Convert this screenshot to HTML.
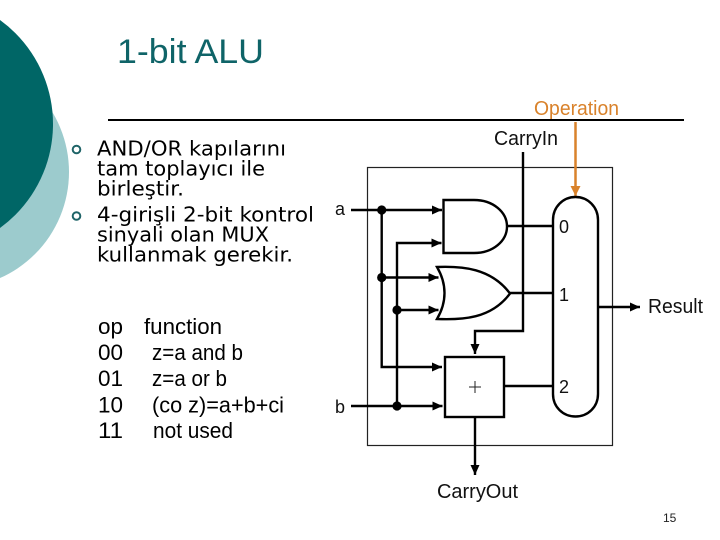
<!DOCTYPE html>
<html>
<head>
<meta charset="utf-8">
<style>
html,body{margin:0;padding:0;background:#fff;width:720px;height:540px;overflow:hidden}
svg{display:block}
.s{font-family:"Liberation Sans",sans-serif;fill:#111}
.d{font-family:"DejaVu Sans",sans-serif;font-size:20px;fill:#000}
.t{font-family:"Liberation Sans",sans-serif;font-size:22px;fill:#000}
</style>
</head>
<body>
<svg width="720" height="540" viewBox="0 0 720 540" xmlns="http://www.w3.org/2000/svg">
<defs>
<marker id="ah" markerUnits="userSpaceOnUse" markerWidth="12" markerHeight="12" refX="10" refY="6" orient="auto"><path d="M0 1.500L10 6L0 10.500Z" fill="#000"/></marker>
<marker id="ao" markerUnits="userSpaceOnUse" markerWidth="12" markerHeight="12" refX="10" refY="6" orient="auto"><path d="M0 1L10 6L0 11Z" fill="#d9822b"/></marker>
</defs>

<circle cx="-47" cy="172" r="116" fill="#9ccbcd"/>
<circle cx="-75.500" cy="124" r="128.500" fill="#006666"/>

<text x="117" y="63" font-family="Liberation Sans,sans-serif" font-size="34" fill="#0f6468" textLength="147" lengthAdjust="spacingAndGlyphs">1-bit ALU</text>
<line x1="108" y1="120" x2="684" y2="120" stroke="#000" stroke-width="2"/>

<circle cx="76.500" cy="149.500" r="3.800" fill="none" stroke="#1f6468" stroke-width="2"/>
<circle cx="76.500" cy="216" r="3.800" fill="none" stroke="#1f6468" stroke-width="2"/>
<text class="d" x="97" y="155.500" textLength="189" lengthAdjust="spacingAndGlyphs">AND/OR kapılarını</text>
<text class="d" x="97" y="175.500" textLength="168" lengthAdjust="spacingAndGlyphs">tam toplayıcı ile</text>
<text class="d" x="97" y="195.500" textLength="87" lengthAdjust="spacingAndGlyphs">birleştir.</text>
<text class="d" x="97" y="221.500" textLength="217" lengthAdjust="spacingAndGlyphs">4-girişli 2-bit kontrol</text>
<text class="d" x="97" y="241.500" textLength="172" lengthAdjust="spacingAndGlyphs">sinyali olan MUX</text>
<text class="d" x="97" y="261.500" textLength="196" lengthAdjust="spacingAndGlyphs">kullanmak gerekir.</text>

<text class="t" x="98" y="334" textLength="25" lengthAdjust="spacingAndGlyphs">op</text>
<text class="t" x="144" y="334" textLength="78" lengthAdjust="spacingAndGlyphs">function</text>
<text class="t" x="98" y="360" textLength="25" lengthAdjust="spacingAndGlyphs">00</text>
<text class="t" x="152" y="360" textLength="91" lengthAdjust="spacingAndGlyphs">z=a and b</text>
<text class="t" x="98" y="386" textLength="25" lengthAdjust="spacingAndGlyphs">01</text>
<text class="t" x="152" y="386" textLength="75" lengthAdjust="spacingAndGlyphs">z=a or b</text>
<text class="t" x="98" y="412.500" textLength="25" lengthAdjust="spacingAndGlyphs">10</text>
<text class="t" x="152" y="412.500" textLength="132" lengthAdjust="spacingAndGlyphs">(co z)=a+b+ci</text>
<text class="t" x="98" y="438" textLength="25" lengthAdjust="spacingAndGlyphs">11</text>
<text class="t" x="153" y="438" textLength="80" lengthAdjust="spacingAndGlyphs">not used</text>

<rect x="367.500" y="167.500" width="245" height="278" fill="none" stroke="#222" stroke-width="1.200"/>

<text x="534" y="115" font-family="Liberation Sans,sans-serif" font-size="20" fill="#d9822b" textLength="85" lengthAdjust="spacingAndGlyphs">Operation</text>
<line x1="575.500" y1="122" x2="575.500" y2="196" stroke="#d9822b" stroke-width="2.500" marker-end="url(#ao)"/>

<text class="s" x="494" y="145" font-size="20" textLength="64" lengthAdjust="spacingAndGlyphs">CarryIn</text>
<text class="s" x="335" y="215" font-size="18">a</text>
<text class="s" x="335" y="413" font-size="18">b</text>
<text class="s" x="559" y="233" font-size="18">0</text>
<text class="s" x="559" y="301" font-size="18">1</text>
<text class="s" x="559" y="393" font-size="18">2</text>
<text class="s" x="648" y="313" font-size="20" textLength="55" lengthAdjust="spacingAndGlyphs">Result</text>
<text class="s" x="437" y="498" font-size="20" textLength="81" lengthAdjust="spacingAndGlyphs">CarryOut</text>
<text x="663" y="522" font-family="Liberation Sans,sans-serif" font-size="12" fill="#222">15</text>

<g fill="none" stroke="#000" stroke-width="2.400">
  <path d="M523 152V331H475V354" marker-end="url(#ah)"/>
  <path d="M351 210H442" marker-end="url(#ah)"/>
  <path d="M381.700 210V367H442" marker-end="url(#ah)"/>
  <path d="M381.700 277.500H438.500" marker-end="url(#ah)"/>
  <path d="M397 406V243H441.500" marker-end="url(#ah)"/>
  <path d="M397 310H438.500" marker-end="url(#ah)"/>
  <path d="M351 406H442.500" marker-end="url(#ah)"/>
  <path d="M443.500 200H474C493 200 507 212 507 226.500C507 241 493 253 474 253H443.500Z"/>
  <path d="M437 267C462 266 491 268 510 293.500C491 319 462 320 437 319C447 302 447 284 437 267Z"/>
  <path d="M507 226H553M510 293H553M504 386H553"/>
  <path d="M553 220C553 207 563 197 575.500 197C588 197 598 207 598 220V394C598 407 588 416.500 575.500 416.500C563 416.500 553 407 553 394Z"/>
  <rect x="445" y="357" width="59" height="60"/>
  <path d="M598 307H640" marker-end="url(#ah)"/>
  <path d="M475 417V475" marker-end="url(#ah)"/>
</g>
<path d="M469 387H481M475 381V393" stroke="#222" stroke-width="1"/>
<g fill="#000">
  <circle cx="381.700" cy="210" r="4.600"/>
  <circle cx="381.700" cy="277.500" r="4.600"/>
  <circle cx="397" cy="310" r="4.600"/>
  <circle cx="397" cy="406" r="4.600"/>
</g>
</svg>
</body>
</html>
